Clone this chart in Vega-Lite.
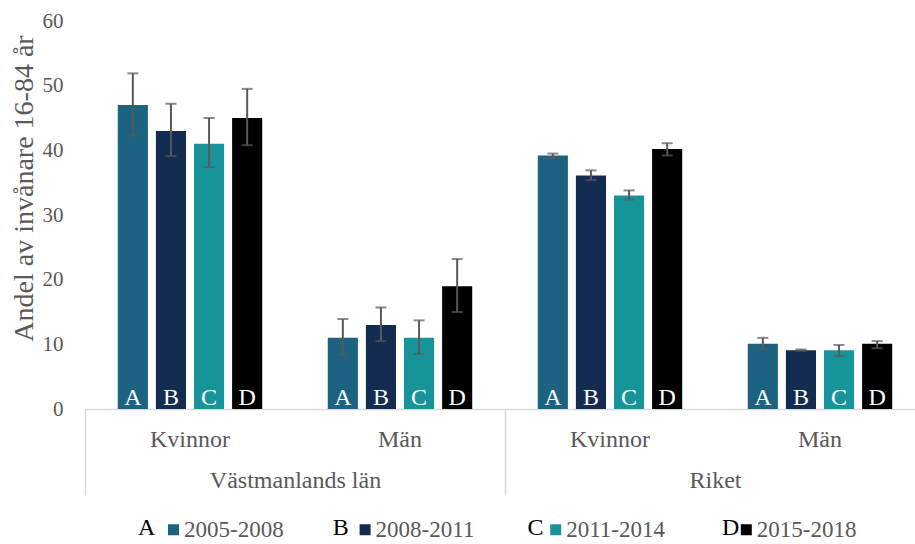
{
  "$schema": "https://vega.github.io/schema/vega-lite/v6.json",
  "autosize": {"type": "none"},
  "padding": {"left": 85, "top": 21, "right": -10, "bottom": 135},
  "width": 840,
  "height": 388,
  "background": "white",
  "config": {
    "view": {"stroke": null},
    "font": "Liberation Serif",
    "axis": {"labelFont": "Liberation Serif", "titleFont": "Liberation Serif"},
    "legend": {"labelFont": "Liberation Serif"}
  },
  "data": {
    "values": [
      {"cat": "Västmanlands län|Kvinnor", "period": "2005-2008", "letter": "A", "value": 47, "lo": 42.3, "hi": 51.9},
      {"cat": "Västmanlands län|Kvinnor", "period": "2008-2011", "letter": "B", "value": 43, "lo": 39.1, "hi": 47.2},
      {"cat": "Västmanlands län|Kvinnor", "period": "2011-2014", "letter": "C", "value": 41, "lo": 37.4, "hi": 45.0},
      {"cat": "Västmanlands län|Kvinnor", "period": "2015-2018", "letter": "D", "value": 45, "lo": 40.8, "hi": 49.5},
      {"cat": "Västmanlands län|Män", "period": "2005-2008", "letter": "A", "value": 11, "lo": 8.3, "hi": 13.9},
      {"cat": "Västmanlands län|Män", "period": "2008-2011", "letter": "B", "value": 13, "lo": 10.5, "hi": 15.7},
      {"cat": "Västmanlands län|Män", "period": "2011-2014", "letter": "C", "value": 11, "lo": 8.5, "hi": 13.7},
      {"cat": "Västmanlands län|Män", "period": "2015-2018", "letter": "D", "value": 19, "lo": 15.0, "hi": 23.2},
      {"cat": "Riket|Kvinnor", "period": "2005-2008", "letter": "A", "value": 39.2, "lo": 38.8, "hi": 39.5},
      {"cat": "Riket|Kvinnor", "period": "2008-2011", "letter": "B", "value": 36.1, "lo": 35.4, "hi": 36.9},
      {"cat": "Riket|Kvinnor", "period": "2011-2014", "letter": "C", "value": 33.0, "lo": 32.4, "hi": 33.8},
      {"cat": "Riket|Kvinnor", "period": "2015-2018", "letter": "D", "value": 40.2, "lo": 39.2, "hi": 41.1},
      {"cat": "Riket|Män", "period": "2005-2008", "letter": "A", "value": 10.1, "lo": 9.3, "hi": 11.0},
      {"cat": "Riket|Män", "period": "2008-2011", "letter": "B", "value": 9.1, "lo": 9.0, "hi": 9.2},
      {"cat": "Riket|Män", "period": "2011-2014", "letter": "C", "value": 9.1, "lo": 8.2, "hi": 9.9},
      {"cat": "Riket|Män", "period": "2015-2018", "letter": "D", "value": 10.1, "lo": 9.4, "hi": 10.5}
    ]
  },
  "resolve": {"axis": {"x": "independent", "y": "shared"}},
  "layer": [
    {
      "mark": {"type": "bar"},
      "encoding": {
        "x": {
          "field": "cat", "type": "nominal",
          "scale": {"domain": ["Västmanlands län|Kvinnor", "Västmanlands län|Män", "Riket|Kvinnor", "Riket|Män"], "paddingInner": 0, "paddingOuter": 0},
          "axis": {
            "title": null, "orient": "bottom", "labelExpr": "split(datum.value,'|')[1]",
            "ticks": false, "domain": true, "domainColor": "#d9d9d9", "domainWidth": 1.5,
            "labelFontSize": 24, "labelColor": "#595959", "labelPadding": 37,
            "labelBaseline": "alphabetic", "labelAngle": 0, "grid": false
          }
        },
        "xOffset": {
          "field": "period", "type": "nominal",
          "scale": {"domain": ["2005-2008", "2008-2011", "2011-2014", "2015-2018"], "paddingInner": 0.21, "paddingOuter": 0.86}
        },
        "y": {
          "field": "value", "type": "quantitative",
          "scale": {"domain": [0, 60]},
          "axis": {
            "orient": "left",
            "title": "Andel av invånare 16-84 år", "values": [0, 10, 20, 30, 40, 50, 60],
            "grid": false, "domain": false, "ticks": false,
            "labelFontSize": 21, "labelColor": "#595959", "labelPadding": 22,
            "titleFontSize": 28, "titleFontWeight": "normal", "titleColor": "#595959",
            "titleX": -53, "titleY": 167, "titleBaseline": "alphabetic", "titleAngle": 270
          }
        },
        "color": {
          "field": "period", "type": "nominal",
          "scale": {"domain": ["2005-2008", "2008-2011", "2011-2014", "2015-2018"], "range": ["#1b6380", "#142b52", "#17949a", "#000000"]},
          "legend": {
            "orient": "none", "legendX": 83, "legendY": 497, "direction": "horizontal",
            "title": null, "symbolType": "square", "symbolSize": 121, "symbolStrokeWidth": 0,
            "symbolOffset": -6,
            "labelFontSize": 23, "labelColor": "#595959", "labelOffset": -1,
            "columnPadding": 75.6, "padding": 0
          }
        }
      }
    },
    {
      "mark": {"type": "rule", "strokeWidth": 2, "color": "#595959"},
      "encoding": {
        "x": {
          "field": "cat", "type": "nominal",
          "scale": {"domain": ["Västmanlands län|Kvinnor", "Västmanlands län|Män", "Riket|Kvinnor", "Riket|Män"], "paddingInner": 0, "paddingOuter": 0},
          "axis": {
            "title": null, "orient": "bottom",
            "values": ["Västmanlands län|Kvinnor", "Riket|Kvinnor"],
            "labelExpr": "datum.value ? split(datum.value,'|')[0] : ''",
            "ticks": true, "tickBand": "center", "tickOffset": -105, "tickSize": 86, "tickColor": "#d9d9d9", "tickWidth": 1.5,
            "domain": false, "labelFontSize": 24, "labelColor": "#595959",
            "labelPadding": -8, "labelBaseline": "alphabetic", "labelOffset": 210, "labelAngle": 0, "grid": false
          }
        },
        "xOffset": {"field": "period", "type": "nominal"},
        "y": {"field": "lo", "type": "quantitative", "scale": {"domain": [0, 60]}},
        "y2": {"field": "hi"}
      }
    },
    {
      "mark": {"type": "tick", "size": 11, "thickness": 2, "color": "#595959"},
      "encoding": {
        "x": {"field": "cat", "type": "nominal", "axis": null},
        "xOffset": {"field": "period", "type": "nominal"},
        "y": {"field": "lo", "type": "quantitative", "scale": {"domain": [0, 60]}}
      }
    },
    {
      "mark": {"type": "tick", "size": 11, "thickness": 2, "color": "#595959"},
      "encoding": {
        "x": {"field": "cat", "type": "nominal", "axis": null},
        "xOffset": {"field": "period", "type": "nominal"},
        "y": {"field": "hi", "type": "quantitative", "scale": {"domain": [0, 60]}}
      }
    },
    {
      "mark": {"type": "text", "baseline": "alphabetic", "dy": -4, "fontSize": 24, "color": "white", "font": "Liberation Serif"},
      "encoding": {
        "x": {"field": "cat", "type": "nominal", "axis": null},
        "xOffset": {"field": "period", "type": "nominal"},
        "y": {"datum": 0, "type": "quantitative", "scale": {"domain": [0, 60]}},
        "text": {"field": "letter"},
        "opacity": {
          "field": "letter", "type": "ordinal",
          "scale": {"type": "ordinal", "domain": ["A", "B", "C", "D"], "range": [1, 1, 1, 1]},
          "legend": {
            "orient": "none", "legendX": 53, "legendY": 495, "direction": "horizontal",
            "title": null, "symbolSize": 0, "symbolStrokeWidth": 0, "symbolOpacity": 0,
            "symbolFillColor": "transparent",
            "labelFontSize": 24, "labelColor": "#000000", "labelOffset": -24,
            "columnPadding": 176.7, "gridAlign": "all", "padding": 0
          }
        }
      }
    }
  ]
}
